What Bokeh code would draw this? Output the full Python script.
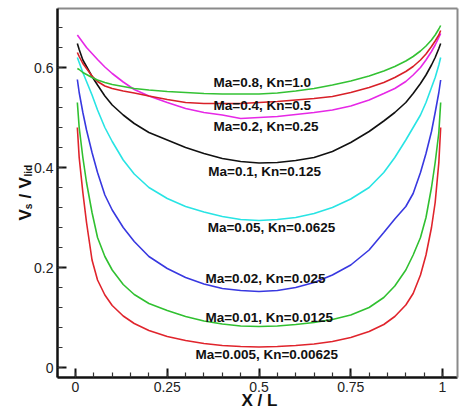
import math
from bokeh.plotting import figure
from bokeh.models import Label, FixedTicker, Range1d, ColumnDataSource, LinearAxis
from bokeh.core.properties import value
from bokeh.embed import file_html
from bokeh.resources import INLINE

# ---------------- data ----------------
x_over_L = [0.005, 0.01, 0.02, 0.03, 0.045, 0.06, 0.08, 0.1, 0.13, 0.16, 0.2, 0.25,
            0.3, 0.35, 0.4, 0.45, 0.5, 0.55, 0.6, 0.65, 0.7, 0.75, 0.8, 0.84, 0.87,
            0.9, 0.92, 0.94, 0.955, 0.97, 0.98, 0.99, 0.995]

vs_ma0005 = [0.48, 0.42, 0.35, 0.29, 0.215, 0.175, 0.145, 0.124, 0.103, 0.088, 0.074, 0.062,
             0.054, 0.048, 0.044, 0.042, 0.041, 0.042, 0.044, 0.047, 0.052, 0.06, 0.072, 0.086, 0.102,
             0.125, 0.148, 0.185, 0.225, 0.28, 0.33, 0.41, 0.48]
vs_ma001 = [0.53, 0.48, 0.42, 0.37, 0.31, 0.26, 0.222, 0.195, 0.166, 0.146, 0.128, 0.114,
            0.102, 0.093, 0.087, 0.083, 0.082, 0.083, 0.086, 0.09, 0.096, 0.105, 0.12, 0.14, 0.163,
            0.195, 0.225, 0.26, 0.3, 0.36, 0.41, 0.47, 0.53]
vs_ma002 = [0.576, 0.55, 0.51, 0.475, 0.43, 0.39, 0.345, 0.315, 0.28, 0.252, 0.222, 0.198,
            0.18, 0.167, 0.158, 0.154, 0.152, 0.154, 0.16, 0.17, 0.185, 0.205, 0.235, 0.27, 0.297,
            0.322, 0.348, 0.39, 0.428, 0.472, 0.51, 0.55, 0.575]
vs_ma005 = [0.62, 0.61, 0.59, 0.572, 0.545, 0.515, 0.48, 0.452, 0.415, 0.387, 0.36, 0.338,
            0.322, 0.311, 0.302, 0.296, 0.294, 0.296, 0.3, 0.308, 0.32, 0.337, 0.36, 0.39, 0.42,
            0.455, 0.48, 0.505, 0.53, 0.56, 0.58, 0.605, 0.62]
vs_ma01 = [0.648, 0.636, 0.615, 0.602, 0.582, 0.565, 0.543, 0.525, 0.505, 0.488, 0.47, 0.455,
           0.44, 0.428, 0.418, 0.412, 0.409, 0.41, 0.414, 0.42, 0.432, 0.45, 0.472, 0.493, 0.51,
           0.53, 0.548, 0.568, 0.585, 0.605, 0.62, 0.638, 0.648]
vs_ma02 = [0.665, 0.66, 0.65, 0.64, 0.628, 0.616, 0.601, 0.588, 0.571, 0.556, 0.543, 0.53,
           0.518, 0.51, 0.505, 0.498, 0.5, 0.502, 0.506, 0.51, 0.515, 0.523, 0.535, 0.548, 0.558,
           0.572, 0.585, 0.6, 0.615, 0.632, 0.645, 0.66, 0.668]
vs_ma04 = [0.63, 0.622, 0.608, 0.598, 0.583, 0.572, 0.563, 0.558, 0.553, 0.549, 0.543, 0.536,
           0.53, 0.528, 0.528, 0.528, 0.53, 0.532, 0.535, 0.538, 0.542, 0.55, 0.56, 0.57, 0.58,
           0.592, 0.602, 0.615, 0.627, 0.642, 0.653, 0.665, 0.674]
vs_ma08 = [0.598, 0.596, 0.59, 0.586, 0.58, 0.575, 0.57, 0.566, 0.562, 0.558, 0.555, 0.552,
           0.55, 0.548, 0.547, 0.547, 0.547, 0.549, 0.553, 0.558, 0.565, 0.573, 0.583, 0.593, 0.602,
           0.613, 0.622, 0.633, 0.643, 0.655, 0.665, 0.677, 0.684]

curve_labels = ["Ma=0.005, Kn=0.00625", "Ma=0.01, Kn=0.0125", "Ma=0.02, Kn=0.025",
                "Ma=0.05, Kn=0.0625", "Ma=0.1, Kn=0.125", "Ma=0.2, Kn=0.25",
                "Ma=0.4, Kn=0.5", "Ma=0.8, Kn=1.0"]
label_x = [0.327, 0.354, 0.354, 0.36, 0.362, 0.376, 0.376, 0.376]
label_y = [0.026, 0.100, 0.178, 0.280, 0.392, 0.482, 0.524, 0.570]

x_ticks = [0, 0.25, 0.5, 0.75, 1]
x_tick_labels = ["0", "0.25", "0.5", "0.75", "1"]
y_ticks = [0, 0.2, 0.4, 0.6]
y_tick_labels = ["0", "0.2", "0.4", "0.6"]

# axes box (data extent of the drawn frame)
X0, X1 = -0.049, 1.041
Y0, Y1 = -0.02, 0.718

series = [vs_ma0005, vs_ma001, vs_ma002, vs_ma005, vs_ma01, vs_ma02, vs_ma04, vs_ma08]
colors = ["#e0242c", "#30c030", "#3838e0", "#28e4e4", "#111111", "#e628e6", "#d82028", "#34c234"]

# ---------------- figure ----------------
p = figure(width=459, height=409, output_backend="svg", toolbar_location=None,
           x_range=Range1d(-0.2044, 1.0463), y_range=Range1d(-0.084, 0.734),
           x_axis_location=None, y_axis_location=None,
           min_border_left=0, min_border_right=0, min_border_top=0, min_border_bottom=0)
p.background_fill_color = "white"
p.border_fill_color = "white"
p.outline_line_color = None
p.grid.visible = False

for ys, c in zip(series, colors):
    p.line(x_over_L, ys, line_color=c, line_width=1.6)

src = ColumnDataSource(dict(x=label_x, y=label_y, t=curve_labels))
p.text("x", "y", text="t", source=src, text_font=value("Liberation Sans"),
       text_font_style="bold", text_font_size="13.5px", text_color="#111111",
       text_align="left", text_baseline="middle")


def style_axis(ax):
    ax.axis_line_width = 2.5
    ax.axis_line_color = "#111111"
    ax.major_tick_in = 9
    ax.major_tick_out = 0
    ax.minor_tick_in = 5
    ax.minor_tick_out = 0
    ax.major_tick_line_width = 2
    ax.minor_tick_line_width = 1.2
    ax.major_tick_line_color = "#111111"
    ax.minor_tick_line_color = "#333333"
    ax.major_label_text_font = "Liberation Sans"
    ax.major_label_text_font_size = "14px"
    ax.major_label_text_color = "#222222"
    ax.major_label_standoff = 4


xax = LinearAxis(fixed_location=Y0, bounds=(X0, X1),
                 ticker=FixedTicker(ticks=x_ticks, minor_ticks=[i * 0.05 for i in range(-1, 21)]),
                 major_label_overrides={t: s for t, s in zip(x_ticks, x_tick_labels)})
yax = LinearAxis(fixed_location=X0, bounds=(Y0, Y1),
                 ticker=FixedTicker(ticks=y_ticks, minor_ticks=[i * 0.04 for i in range(0, 18)]),
                 major_label_overrides={t: s for t, s in zip(y_ticks, y_tick_labels)})
style_axis(xax)
style_axis(yax)
p.add_layout(xax, "below")
p.add_layout(yax, "left")

# top and right frame edges
for loc, side, bnds in ((Y1, "above", (X0, X1)), (X1, "right", (Y0, Y1))):
    ax = LinearAxis(fixed_location=loc, bounds=bnds, ticker=FixedTicker(ticks=[]),
                    axis_line_color="#8a8a8a", axis_line_width=2,
                    major_tick_line_color=None, minor_tick_line_color=None,
                    major_label_text_alpha=0)
    p.add_layout(ax, side)

# axis titles
p.add_layout(Label(x=0.501, y=-0.066, text="X / L", text_font="Liberation Sans",
                   text_font_style="bold", text_font_size="17px", text_color="#111111",
                   text_align="center", text_baseline="middle"))

ang = math.pi / 2
big = dict(text_font="Liberation Sans", text_font_style="bold", text_font_size="17px",
           text_color="#111111", angle=ang, text_align="left", text_baseline="alphabetic")
small = dict(big, text_font_size="10px")
p.add_layout(Label(x=-0.136, y=0.294, text="V", **big))
p.add_layout(Label(x=-0.128, y=0.3166, text="s", **small))
p.add_layout(Label(x=-0.136, y=0.338, text="/", **big))
p.add_layout(Label(x=-0.136, y=0.358, text="V", **big))
p.add_layout(Label(x=-0.128, y=0.382, text="lid", **small))

open("out.html", "w").write(file_html(p, INLINE))
